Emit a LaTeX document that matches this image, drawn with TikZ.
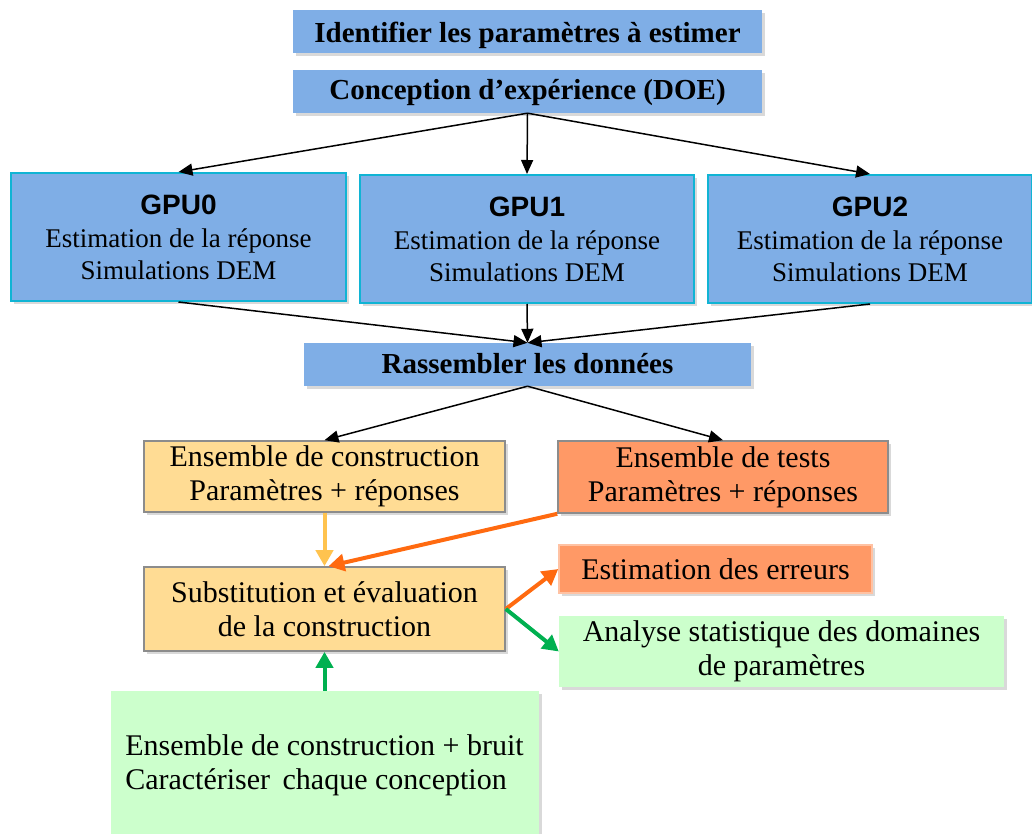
\documentclass[tikz,border=0pt]{standalone}
\usepackage{fontspec}
\setmainfont{Liberation Serif}
\setsansfont{Liberation Sans}
\usetikzlibrary{arrows.meta,shadows}
\definecolor{bluefill}{HTML}{7FAEE6}
\definecolor{cyanborder}{HTML}{10B4D4}
\definecolor{yellowfill}{HTML}{FFDC94}
\definecolor{orangefill}{HTML}{FF9966}
\definecolor{greenfill}{HTML}{CCFFCC}
\definecolor{grayborder}{HTML}{8C8C8C}
\definecolor{yellowarrow}{HTML}{FFC34F}
\definecolor{orangearrow}{HTML}{FF6A10}
\definecolor{greenarrow}{HTML}{00B050}
\begin{document}
\begin{tikzpicture}[x=1pt,y=-1pt,
  box/.style={inner sep=0pt, align=center, font=\fontsize{30}{34}\selectfont,
    drop shadow={opacity=0.3,shadow xshift=3pt,shadow yshift=-3pt}},
  bluebox/.style={box, fill=bluefill, font=\bfseries\fontsize{29}{32}\selectfont, text height=20pt, text depth=3pt},
  gpubox/.style={box, fill=bluefill, draw=cyanborder, line width=2pt, font=\fontsize{27}{32}\selectfont},
  yellowbox/.style={box, fill=yellowfill, draw=grayborder, line width=1.6pt},
  orangebox/.style={box, fill=orangefill, draw=grayborder, line width=1.6pt},
  lightorangebox/.style={box, fill=orangefill, draw=orangefill!60!white, line width=1.4pt},
  greenbox/.style={box, fill=greenfill},
  blackarrow/.style={line width=1.5pt, -{Triangle[length=14pt,width=12pt]}},
  colarrow/.style={line width=4pt, -{Triangle[length=16pt,width=17pt]}}
]
\useasboundingbox (0,0) rectangle (1032,834);
\clip (0,0) rectangle (1032,834);

\node[bluebox, minimum width=469pt, minimum height=43pt, text height=23pt, text depth=0pt] (ident) at (527.5,31.5) {Identifier les paramètres à estimer};
\node[bluebox, minimum width=469pt, minimum height=43pt] (doe) at (527.5,91.5) {Conception d’expérience (DOE)};

\node[gpubox, minimum width=335pt, minimum height=128pt] (gpu0) at (178.5,237) {{\sffamily\bfseries\fontsize{28}{30}\selectfont GPU0}\\[1pt]Estimation de la réponse\\Simulations DEM};
\node[gpubox, minimum width=334pt, minimum height=128pt] (gpu1) at (527,239) {{\sffamily\bfseries\fontsize{28}{30}\selectfont GPU1}\\[1pt]Estimation de la réponse\\Simulations DEM};
\node[gpubox, minimum width=324pt, minimum height=128pt] (gpu2) at (870,239) {{\sffamily\bfseries\fontsize{28}{30}\selectfont GPU2}\\[1pt]Estimation de la réponse\\Simulations DEM};

\node[bluebox, minimum width=447pt, minimum height=43pt] (rass) at (527.5,364.5) {Rassembler les données};

\node[yellowbox, minimum width=361pt, minimum height=71pt] (ensc) at (324.5,476.5) {Ensemble de construction\\Paramètres + réponses};
\node[orangebox, minimum width=330pt, minimum height=72pt] (enst) at (723,477) {Ensemble de tests\\Paramètres + réponses};
\node[yellowbox, minimum width=361pt, minimum height=84pt] (subst) at (324.5,609) {Substitution et évaluation\\de la construction};
\node[lightorangebox, minimum width=313pt, minimum height=48pt] (err) at (715.5,569) {Estimation des erreurs};
\node[greenbox, minimum width=428pt, minimum height=148pt, align=left] (bruit) at (324.5,765) {Ensemble de construction + bruit\\Caractériser\, chaque conception};
\node[greenbox, minimum width=445pt, minimum height=71pt] (anal) at (781.5,651.5) {Analyse statistique des domaines\\de paramètres};

\draw[blackarrow] (doe.south) -- (gpu0.north);
\draw[blackarrow] (doe.south) -- (gpu1.north);
\draw[blackarrow] (doe.south) -- (gpu2.north);
\draw[blackarrow] (gpu0.south) -- (rass.north);
\draw[blackarrow] (gpu1.south) -- (rass.north);
\draw[blackarrow] (gpu2.south) -- (rass.north);
\draw[blackarrow] (rass.south) -- (ensc.north);
\draw[blackarrow] (rass.south) -- (enst.north);

\draw[colarrow, yellowarrow] (ensc.south) -- (subst.north);
\draw[colarrow, orangearrow] (enst.south west) -- ([xshift=4pt]subst.north);
\draw[colarrow, orangearrow] (subst.east) -- (err.west);
\draw[colarrow, greenarrow] (subst.east) -- (anal.west);
\draw[colarrow, greenarrow] (bruit.north) -- (subst.south);
\end{tikzpicture}
\end{document}
